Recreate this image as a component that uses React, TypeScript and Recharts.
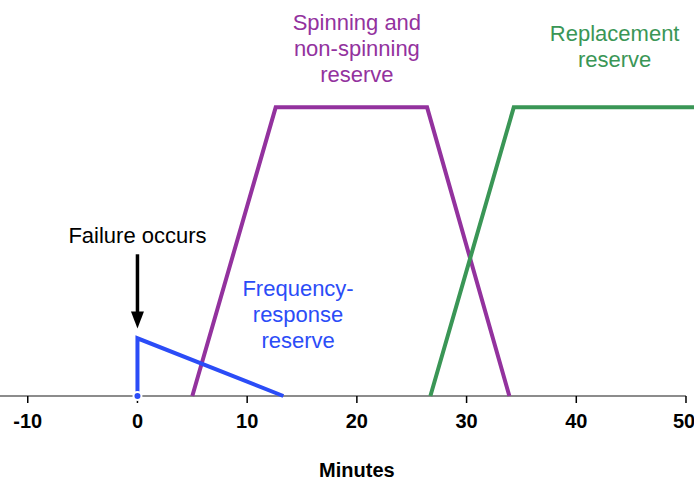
import { LineChart, Line, XAxis, YAxis, ReferenceLine, ReferenceDot } from "recharts";

const FONT = '"Liberation Sans", Arial, Helvetica, sans-serif';
const BLUE = "#2b4cf7";
const PURPLE = "#93329e";
const GREEN = "#3a9656";

// minutes after the failure
const xTicks = [-10, 0, 10, 20, 30, 40, 50];
const xDomain = [-12.53, 50.73];
const yDomain = [0, 13.72];

const frequencyResponse = [
  { x: 0, y: 0 },
  { x: 0, y: 2 },
  { x: 13.3, y: 0 },
];
const spinningReserve = [
  { x: 5.0, y: 0 },
  { x: 12.6, y: 10 },
  { x: 26.4, y: 10 },
  { x: 33.9, y: 0 },
];
const replacementReserve = [
  { x: 26.7, y: 0 },
  { x: 34.3, y: 10 },
  { x: 50.73, y: 10 },
];

const annotations = [
  { x: 20, y: 12.97, lines: ["Spinning and", "non-spinning", "reserve"], color: PURPLE },
  { x: 43.5, y: 12.56, lines: ["Replacement", "reserve"], color: GREEN },
  { x: 14.64, y: 3.73, lines: ["Frequency-", "response", "reserve"], color: BLUE },
  { x: 0, y: 5.58, lines: ["Failure occurs"], color: "#000" },
];

const TextBlock = (props: any) => {
  const { cx, cy, lines, color, size = 22, bold = false, lineHeight = 26 } = props;
  return (
    <text
      x={cx}
      y={cy}
      fill={color}
      fontSize={size}
      fontWeight={bold ? "bold" : "normal"}
      fontFamily={FONT}
      textAnchor="middle"
    >
      {lines.map((l: string, i: number) => (
        <tspan key={i} x={cx} y={cy + i * lineHeight} dy="0.36em">
          {l}
        </tspan>
      ))}
    </text>
  );
};

const ArrowHead = (props: any) => {
  const { cx, cy } = props;
  return <path d={`M${cx},${cy} L${cx - 6.5},${cy - 17} L${cx + 6.5},${cy - 17} Z`} fill="#000" />;
};

export default function App() {
  return (
    <div style={{ position: "absolute", left: 0, top: 0, width: 694, height: 481, background: "#fff" }}>
      <LineChart width={694} height={481} margin={{ top: 0, right: 0, left: 0, bottom: 0 }}>
        <XAxis
          dataKey="x"
          type="number"
          domain={xDomain}
          ticks={xTicks}
          height={85}
          axisLine={false}
          tickLine={{ stroke: "#000", strokeWidth: 1.5 }}
          tickSize={7}
          tickMargin={11}
          tick={{ fill: "#000", fontSize: 20, fontWeight: "bold", fontFamily: FONT }}
        />
        <YAxis type="number" domain={yDomain} hide />
        <ReferenceLine
          segment={[
            { x: xDomain[0], y: 0 },
            { x: 50, y: 0 },
          ]}
          stroke="#8c8c8c"
          strokeWidth={2}
        />
        <Line data={spinningReserve} dataKey="y" type="linear" stroke={PURPLE} strokeWidth={4} dot={false} isAnimationActive={false} />
        <Line data={replacementReserve} dataKey="y" type="linear" stroke={GREEN} strokeWidth={4} dot={false} isAnimationActive={false} />
        <Line
          data={frequencyResponse}
          dataKey="y"
          type="linear"
          stroke={BLUE}
          strokeWidth={4}
          dot={false}
          isAnimationActive={false}
        />
        <ReferenceLine
          segment={[
            { x: 0, y: 4.91 },
            { x: 0, y: 2.8 },
          ]}
          stroke="#000"
          strokeWidth={3.5}
        />
        <ReferenceDot x={0} y={2.34} r={0} ifOverflow="visible" shape={<ArrowHead />} />
        {annotations.map((a, i) => (
          <ReferenceDot
            key={i}
            x={a.x}
            y={a.y}
            r={0}
            ifOverflow="visible"
            shape={<TextBlock lines={a.lines} color={a.color} />}
          />
        ))}
        <ReferenceDot
          x={20}
          y={-2.55}
          r={0}
          ifOverflow="visible"
          shape={<TextBlock lines={["Minutes"]} color="#000" size={20} bold />}
        />
      </LineChart>
    </div>
  );
}
